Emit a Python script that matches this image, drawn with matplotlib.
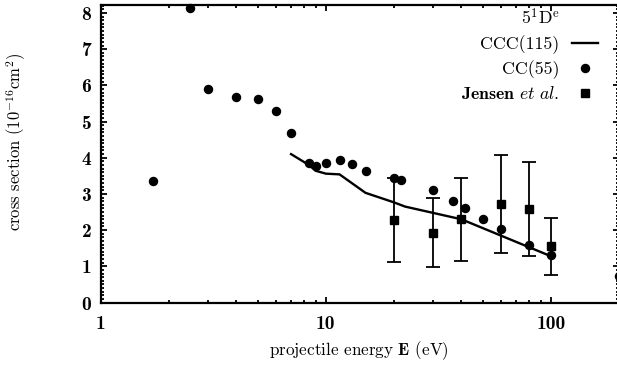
import matplotlib
matplotlib.use("Agg")
import matplotlib.pyplot as plt
from matplotlib.lines import Line2D
from matplotlib.ticker import FixedLocator, NullFormatter, MultipleLocator

plt.rcParams['mathtext.fontset'] = 'cm'
plt.rcParams['axes.unicode_minus'] = False
plt.rcParams['font.family'] = ['cmr10', 'DejaVu Serif']

# CCC(115) calculation
ccc_E = [7, 8.4, 9, 10, 11.5, 15, 20, 22.5, 40, 100]
ccc_sigma = [4.10, 3.80, 3.64, 3.56, 3.54, 3.03, 2.77, 2.65, 2.30, 1.28]

# CC(55) calculation
cc_E = [1.7, 2.5, 3, 4, 5, 6, 7, 8.4, 9, 10, 11.5, 13, 15, 20, 21.5, 30,
        36.6, 41.5, 50, 60, 80, 100, 200]
cc_sigma = [3.36, 8.15, 5.91, 5.67, 5.62, 5.29, 4.68, 3.86, 3.77, 3.85, 3.94,
            3.83, 3.63, 3.45, 3.38, 3.10, 2.81, 2.62, 2.32, 2.03, 1.59, 1.32, 0.73]

# Jensen et al. measurements
jensen_E = [20, 30, 40, 60, 80, 100]
jensen_sigma = [2.28, 1.93, 2.30, 2.72, 2.58, 1.55]
jensen_err = [1.16, 0.95, 1.15, 1.35, 1.29, 0.78]

x_ticks = [1, 10, 100]
x_tick_labels = ['1', '10', '100']
y_ticks = [0, 1, 2, 3, 4, 5, 6, 7, 8]

fig = plt.figure(figsize=(6.17, 3.73), dpi=100)
ax = fig.add_axes([101 / 617, 70.5 / 373, 517.5 / 617, 297.5 / 373])

ax.plot(ccc_E, ccc_sigma, color='black', lw=1.7, solid_joinstyle='miter')
ax.plot(cc_E, cc_sigma, 'o', color='black', ms=5.8, clip_on=False)
ax.errorbar(jensen_E, jensen_sigma, yerr=jensen_err, fmt='s', color='black',
            ms=5.8, capsize=4.8, elinewidth=1.3, capthick=1.3)

ax.set_xscale('log')
ax.set_xlim(1, 200)
ax.set_ylim(0, 8.22)

ax.xaxis.set_major_locator(FixedLocator(x_ticks))
ax.set_xticklabels(x_tick_labels)
ax.xaxis.set_minor_locator(FixedLocator([m * d for d in (1, 10, 100) for m in range(2, 10)]))
ax.xaxis.set_minor_formatter(NullFormatter())
ax.set_yticks(y_ticks)
ax.yaxis.set_minor_locator(MultipleLocator(0.1))

for s in ax.spines.values():
    s.set_linewidth(1.6)
ax.tick_params(which='both', direction='in', top=True, right=True, width=1.3)
ax.tick_params(which='major', length=4.5)
ax.tick_params(which='minor', length=2.4)
ax.tick_params(axis='x', which='major', pad=9)
ax.tick_params(axis='y', which='major', pad=7)
for lab in ax.get_xticklabels() + ax.get_yticklabels():
    lab.set_fontfamily('cmb10')
    lab.set_fontsize(14)

ax.set_xlabel('projectile energy $\\mathbf{E}$ (eV)', fontsize=12.3)
ax.xaxis.set_label_coords((359 - 101) / 517.5, -(339 - 302.5) / 297.5)
ax.set_ylabel('cross section (10$^{-16}$cm$^{2}$)', fontsize=12)
ax.yaxis.set_label_coords(-(101 - 28) / 517.5, (302.5 - 142) / 297.5)

handles = [Line2D([], [], color='black', lw=1.7),
           Line2D([], [], marker='o', ls='none', color='black', ms=5.8),
           Line2D([], [], marker='s', ls='none', color='black', ms=5.8)]
labels = ['CCC(115)', 'CC(55)', 'Jensen $\\mathit{et\\ al.}$']
leg = ax.legend(handles, labels, markerfirst=False,
                frameon=False, fontsize=12.8,
                loc='upper right', bbox_to_anchor=(598 / 617, 338 / 373),
                bbox_transform=fig.transFigure, handlelength=1.46,
                handletextpad=0.73, labelspacing=0.36, borderaxespad=0,
                borderpad=0)
leg.get_texts()[2].set_fontfamily('cmb10')
fig.text(560 / 617, 1 - 17 / 373, '5$^{1}$D$^{\\rm e}$', fontsize=12.8,
         ha='right', va='center')

fig.savefig('out.png', dpi=100)
